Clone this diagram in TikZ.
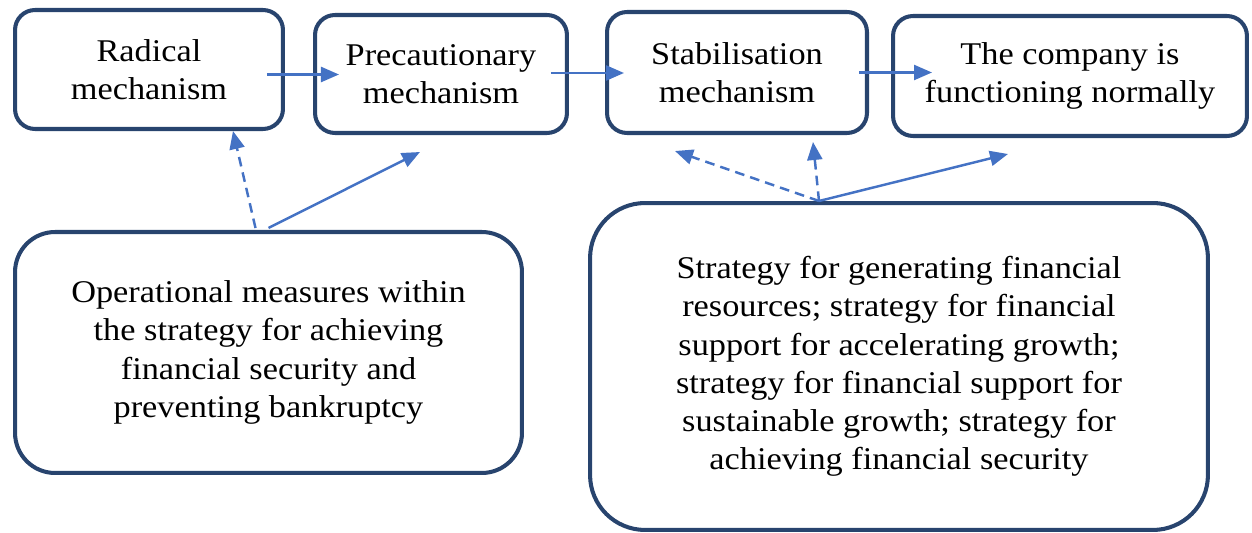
\documentclass[tikz,border=0pt]{standalone}
\usepackage{fontspec}
\setmainfont{Liberation Serif}[FakeStretch=1.085]
\usepackage{tikz}
\usetikzlibrary{arrows.meta,calc}

\definecolor{boxline}{RGB}{40,68,110}
\definecolor{arrowblue}{RGB}{68,114,196}

\tikzset{
  mechbox/.style={draw=boxline, line width=2.3pt, rounded corners=0.4cm, align=center,
    inner sep=0pt, font=\fontsize{18}{21.5}\selectfont},
  measurebox/.style={mechbox, font=\fontsize{18}{21.8}\selectfont},
  flow/.style={arrowblue, line width=1.4pt, -{Triangle[length=0.36cm,width=0.3cm]}},
  weakflow/.style={flow, dash pattern=on 5.5pt off 3.5pt}
}

\begin{document}
\begin{tikzpicture}[x=0.02cm,y=-0.02cm]
\useasboundingbox (0,0) rectangle (1252,533);
\node[mechbox, minimum width=5.36cm, minimum height=2.38cm] (rad) at (149,69.5) {Radical\\mechanism};
\node[mechbox, minimum width=5.04cm, minimum height=2.36cm] (prec) at (441,74) {Precautionary\\mechanism};
\node[mechbox, minimum width=5.2cm, minimum height=2.42cm] (stab) at (737,72.5) {Stabilisation\\mechanism};
\node[mechbox, minimum width=7.08cm, minimum height=2.4cm] (norm) at (1070,76) {The company is\\functioning normally};
\node[measurebox, rounded corners=0.8cm, minimum width=10.14cm, minimum height=4.82cm] (ops) at (268.5,352.5)
  {Operational measures within\\the strategy for achieving\\financial security and\\preventing bankruptcy};
\node[measurebox, rounded corners=1.1cm, minimum width=12.36cm, minimum height=6.54cm] (strat) at (899,366.5)
  {Strategy for generating financial\\resources; strategy for financial\\support for accelerating growth;\\strategy for financial support for\\sustainable growth; strategy for\\achieving financial security};

\draw[flow] ($(rad.east)+(-18,5)$) -- ++(72,0);
\draw[flow] ($(prec.east)+(-18,-1)$) -- ++(73,0);
\draw[flow] ($(stab.east)+(-10,0)$) -- ++(73,0);

\draw[weakflow] ($(ops.north)+(-13,-2)$) -- ($(rad.south)+(84,0)$);
\draw[flow] ($(ops.north)+(0,-2)$) -- ($(prec.south)+(-21,17)$);

\coordinate (hub) at ($(strat.north)+(-80,0)$);
\draw[weakflow] (hub) -- ($(stab.south)+(-62,16)$);
\draw[weakflow] (hub) -- ($(stab.south)+(76,7)$);
\draw[flow] (hub) -- ($(norm.south)+(-62,16)$);
\end{tikzpicture}
\end{document}
